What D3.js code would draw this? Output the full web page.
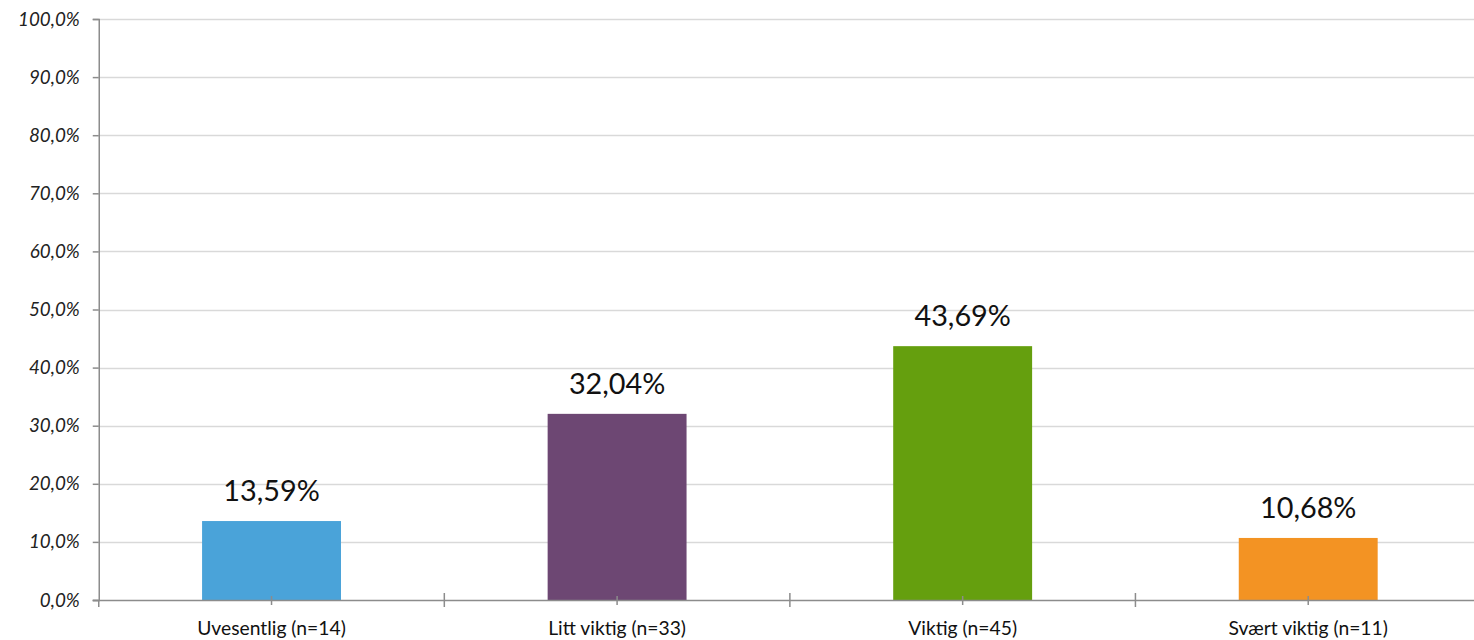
<!DOCTYPE html>
<html><head><meta charset="utf-8">
<script src="https://cdn.jsdelivr.net/npm/d3@7"></script>
<style>body{margin:0;background:#fff}svg{display:block}</style>
</head><body><svg id="c" width="1474" height="640"></svg>
<script>
const categories = ["Uvesentlig (n=14)", "Litt viktig (n=33)", "Viktig (n=45)", "Svært viktig (n=11)"];
const values = [13.59, 32.04, 43.69, 10.68];
const labels = ["13,59%", "32,04%", "43,69%", "10,68%"];
const colors = ["#4aa3d9", "#6d4773", "#659f0e", "#f39323"];
const yTicks = [0,10,20,30,40,50,60,70,80,90,100];

const svg = d3.select("#c");
const L = 98.75, R = 1481, T = 19, B = 600;
const x = d3.scaleBand().domain(categories).range([L, R]).paddingInner(0).paddingOuter(0);
const y = d3.scaleLinear().domain([0,100]).range([B, T]);
const font = "Lato, sans-serif";

// gridlines
svg.append("g").selectAll("line").data(yTicks.filter(d=>d>0)).join("line")
  .attr("x1", L).attr("x2", R).attr("y1", d=>Math.round(y(d))+0.5).attr("y2", d=>Math.round(y(d))+0.5)
  .attr("stroke", "#d9d9d9").attr("stroke-width", 1.3);

// bars
const bw = x.bandwidth()*0.402;
svg.append("g").selectAll("rect").data(values).join("rect")
  .attr("x", (d,i)=>x(categories[i]) + (x.bandwidth()-bw)/2)
  .attr("width", bw)
  .attr("y", d=>y(d)).attr("height", d=>B - y(d))
  .attr("fill", (d,i)=>colors[i]);

// y axis
const yAxis = d3.axisLeft(y).tickValues(yTicks).tickSize(6).tickPadding(13)
  .tickFormat(d=>d3.format(".1f")(d).replace(".", ",") + "%");
const gy = svg.append("g").attr("transform", `translate(${L},0)`).call(yAxis);
gy.select(".domain").attr("stroke", "#8c8c8c").attr("stroke-width", 1.5);
gy.selectAll(".tick line").attr("stroke", "#8c8c8c").attr("stroke-width", 1.5);
gy.selectAll(".tick text").attr("font-family", font).attr("font-size", 18.8)
  .attr("font-style", "italic").attr("fill", "#222");

// x axis
const gx = svg.append("g").attr("transform", `translate(0,${B})`);
gx.append("line").attr("x1", L-6).attr("x2", R).attr("y1", 0.5).attr("y2", 0.5)
  .attr("stroke", "#8c8c8c").attr("stroke-width", 1.5);
const bounds = categories.map(c=>x(c)).concat([R]);
gx.selectAll("line.b").data(bounds.slice(1, 4)).join("line").attr("class","b")
  .attr("x1", d=>d).attr("x2", d=>d).attr("y1", -7).attr("y2", 7)
  .attr("stroke", "#8c8c8c").attr("stroke-width", 1.5);
gx.selectAll("line.c").data(categories).join("line").attr("class","c")
  .attr("x1", d=>x(d)+x.bandwidth()/2).attr("x2", d=>x(d)+x.bandwidth()/2).attr("y1", -4).attr("y2", 5)
  .attr("stroke", "#8c8c8c").attr("stroke-width", 1.5);
gx.append("line").attr("x1", L).attr("x2", L).attr("y1", 0).attr("y2", 7)
  .attr("stroke", "#8c8c8c").attr("stroke-width", 1.5);
gx.selectAll("text").data(categories).join("text")
  .attr("x", d=>x(d)+x.bandwidth()/2).attr("y", 35)
  .attr("text-anchor", "middle").attr("font-family", font).attr("font-size", 19.3)
  .attr("fill", "#111").text(d=>d);

// data labels
svg.append("g").selectAll("text").data(values).join("text")
  .attr("x", (d,i)=>x(categories[i]) + x.bandwidth()/2)
  .attr("y", d=>y(d) - 20)
  .attr("text-anchor", "middle").attr("font-family", font).attr("font-size", 28.8)
  .attr("fill", "#111").text((d,i)=>labels[i]);
</script></body></html>
